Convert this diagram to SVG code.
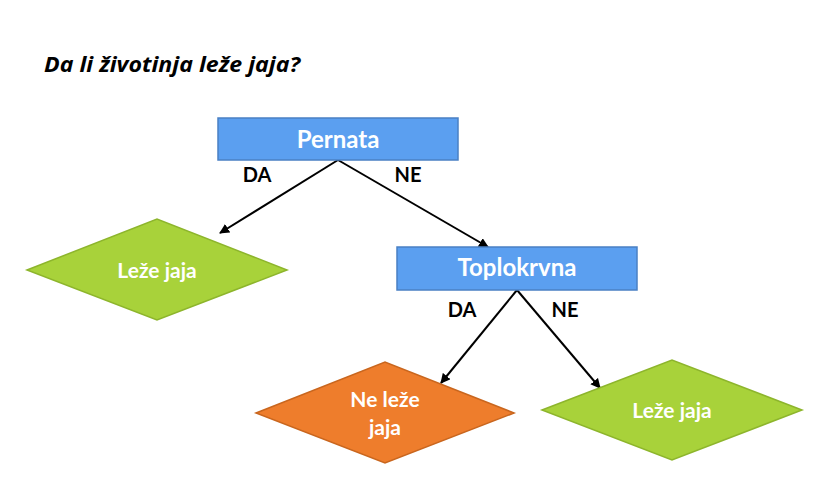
<svg xmlns="http://www.w3.org/2000/svg" width="837" height="502" viewBox="0 0 837 502">
<style>
.box{fill:#5B9FF0;stroke:#4A80C4;stroke-width:1.5}
.green{fill:#A8D23A;stroke:#8DB52C;stroke-width:1.5}
.orange{fill:#EE7D2C;stroke:#C9661E;stroke-width:1.5}
.nt{font-family:Lato,"Open Sans","Liberation Sans",sans-serif;font-weight:bold;fill:#fff;text-anchor:middle}
.lbl{font-family:Lato,"Open Sans","Liberation Sans",sans-serif;font-weight:bold;fill:#000;font-size:20px;text-anchor:middle}
.edge{stroke:#000;stroke-width:2;fill:none;marker-end:url(#ah)}
</style>
<defs>
<marker id="ah" viewBox="0 0 10 10" refX="9" refY="5" markerWidth="5" markerHeight="5" orient="auto" markerUnits="strokeWidth">
<path d="M0,0 L10,5 L0,10 z" fill="#000"/>
</marker>
</defs>
<rect width="837" height="502" fill="#fff"/>
<text x="44" y="72" font-family="'Open Sans',Lato,'Liberation Sans',sans-serif" font-weight="bold" font-style="italic" font-size="22" fill="#000" textLength="256" lengthAdjust="spacingAndGlyphs">Da li životinja leže jaja?</text>
<g id="connectors">
<line class="edge" x1="338" y1="160" x2="220" y2="233"/>
<line class="edge" x1="338" y1="160" x2="488" y2="247"/>
<line class="edge" x1="517" y1="290" x2="441" y2="383"/>
<line class="edge" x1="517" y1="290" x2="600" y2="388"/>
<text class="lbl" x="257" y="182">DA</text>
<text class="lbl" x="408" y="182">NE</text>
<text class="lbl" x="462" y="317">DA</text>
<text class="lbl" x="565" y="317">NE</text>
</g>
<g id="pernata">
<rect class="box" x="218" y="118" width="240" height="42"/>
<text class="nt" x="338" y="148" font-size="24">Pernata</text>
</g>
<g id="leze1">
<polygon class="green" points="27,270 157,219 287,270 157,320"/>
<text class="nt" x="157" y="278" font-size="21">Leže jaja</text>
</g>
<g id="toplokrvna">
<rect class="box" x="397" y="247" width="240" height="43"/>
<text class="nt" x="517" y="276" font-size="24">Toplokrvna</text>
</g>
<g id="neleze">
<polygon class="orange" points="256,413 385,362 514,413 385,463"/>
<text class="nt" x="385" y="407" font-size="21">Ne leže</text>
<text class="nt" x="385" y="435" font-size="21">jaja</text>
</g>
<g id="leze2">
<polygon class="green" points="542,410 672,360 802,410 672,460"/>
<text class="nt" x="672" y="418" font-size="21">Leže jaja</text>
</g>
</svg>
